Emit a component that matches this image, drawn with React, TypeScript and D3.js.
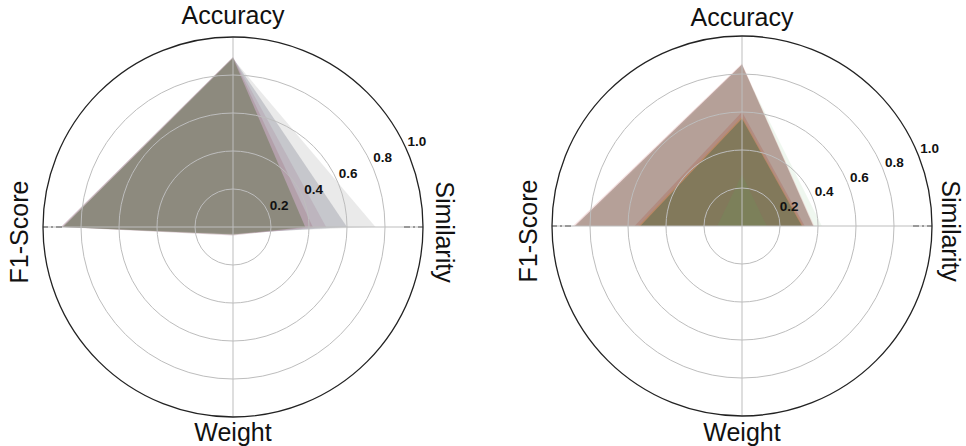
import * as d3 from "d3";
import { useEffect, useRef } from "react";

// axis order: clockwise from the top
const axes = ["Accuracy", "Similarity", "Weight", "F1-Score"];
const radialTicks = [0.2, 0.4, 0.6, 0.8, 1.0];

// left panel: one row per model, values in axes order
const leftValues = [
  [0.885, 0.75, 0.03, 0.89],
  [0.89, 0.6, 0.035, 0.895],
  [0.895, 0.49, 0.04, 0.905],
  [0.895, 0.42, 0.045, 0.905],
  [0.89, 0.38, 0.04, 0.895],
];
const leftColors = ["#d0d0d0", "#9698a5", "#aa8ca0", "#a07887", "#6e785a"];
const leftOpacity = [0.45, 0.43, 0.3, 0.35, 0.55];

// right panel
const rightValues = [
  [0.84, 0.42, 0, 0.87],
  [0.855, 0.38, 0, 0.89],
  [0.85, 0.375, 0, 0.88],
  [0.6, 0.33, 0, 0.565],
  [0.575, 0.32, 0, 0.545],
  [0.565, 0.315, 0, 0.535],
  [0.27, 0.13, 0, 0.13],
];
const rightColors = ["#96c896", "#e1aaaa", "#967d73", "#aa503c", "#c88228", "#4b6950", "#64a05a"];
const rightOpacity = [0.15, 0.35, 0.63, 0.25, 0.3, 0.5, 0.2];

const W = 966;
const H = 446;
const R = 190;
const font = "'Liberation Sans', Arial, sans-serif";

function drawRadar(svg, cx, cy, values, colors, opac, labelAngle, topY, simGap) {
  const g = svg.append("g").attr("transform", `translate(${cx},${cy})`);
  const r = d3.scaleLinear().domain([0, 1]).range([0, R]);
  const angle = d3.scaleLinear().domain([0, axes.length]).range([0, 2 * Math.PI]);

  const line = d3.lineRadial()
    .angle((d, i) => angle(i))
    .radius(d => r(d))
    .curve(d3.curveLinearClosed);

  g.selectAll("path.area")
    .data(values)
    .enter().append("path")
    .attr("class", "area")
    .attr("d", d => line(d))
    .attr("fill", (d, i) => colors[i])
    .attr("fill-opacity", (d, i) => opac[i])
    .attr("stroke", "none");

  // grid on top of the fills
  g.selectAll("circle.grid")
    .data(radialTicks.slice(0, -1))
    .enter().append("circle")
    .attr("class", "grid")
    .attr("r", d => r(d))
    .attr("fill", "none")
    .attr("stroke", "#bdbdbd")
    .attr("stroke-width", 1);

  axes.forEach((a, i) => {
    const t = angle(i);
    g.append("line")
      .attr("x1", 0).attr("y1", 0)
      .attr("x2", r(1) * Math.sin(t)).attr("y2", -r(1) * Math.cos(t))
      .attr("stroke", "#bdbdbd")
      .attr("stroke-width", 1);
  });

  // little dark dashes on the horizontal spoke near the rim
  [1, 3].forEach(i => {
    const t = angle(i);
    g.append("line")
      .attr("x1", r(0.9) * Math.sin(t)).attr("y1", 0)
      .attr("x2", r(1) * Math.sin(t)).attr("y2", 0)
      .attr("stroke", "#555")
      .attr("stroke-width", 1)
      .attr("stroke-dasharray", "6,3,2,3");
  });

  g.append("circle")
    .attr("r", r(1))
    .attr("fill", "none")
    .attr("stroke", "#222")
    .attr("stroke-width", 1.3);

  const la = (labelAngle * Math.PI) / 180;
  g.selectAll("text.tick")
    .data(radialTicks)
    .enter().append("text")
    .attr("class", "tick")
    .attr("x", d => (r(d) + 13) * Math.cos(la))
    .attr("y", d => -(r(d) + 13) * Math.sin(la))
    .attr("text-anchor", "middle")
    .attr("dominant-baseline", "central")
    .attr("font-family", font)
    .attr("font-weight", "bold")
    .attr("font-size", 13.5)
    .attr("fill", "#111")
    .text(d => d.toFixed(1));

  const lab = svg.append("g")
    .attr("font-family", font)
    .attr("font-size", 25)
    .attr("fill", "#111")
    .attr("text-anchor", "middle");

  lab.append("text").attr("x", cx).attr("y", topY).text(axes[0]);
  lab.append("text")
    .attr("transform", `translate(${cx + R + simGap},${cy + 5}) rotate(90)`)
    .text(axes[1]);
  lab.append("text").attr("x", cx).attr("y", 441).text(axes[2]);
  lab.append("text")
    .attr("transform", `translate(${cx - R - 15},${cy + 5}) rotate(-90)`)
    .text(axes[3]);
}

const App = () => {
  const ref = useRef(null);

  useEffect(() => {
    const svg = d3.select(ref.current);
    svg.selectAll("*").remove();
    drawRadar(svg, 233, 227, leftValues, leftColors, leftOpacity, 25, 24, 13);
    drawRadar(svg, 742, 226, rightValues, rightColors, rightOpacity, 22.5, 26, 10);
  }, []);

  return (
    <div style={{ position: "absolute", left: 0, top: 0 }}>
      <svg ref={ref} width={W} height={H} style={{ display: "block", background: "#fff" }} />
    </div>
  );
};

export default App;
